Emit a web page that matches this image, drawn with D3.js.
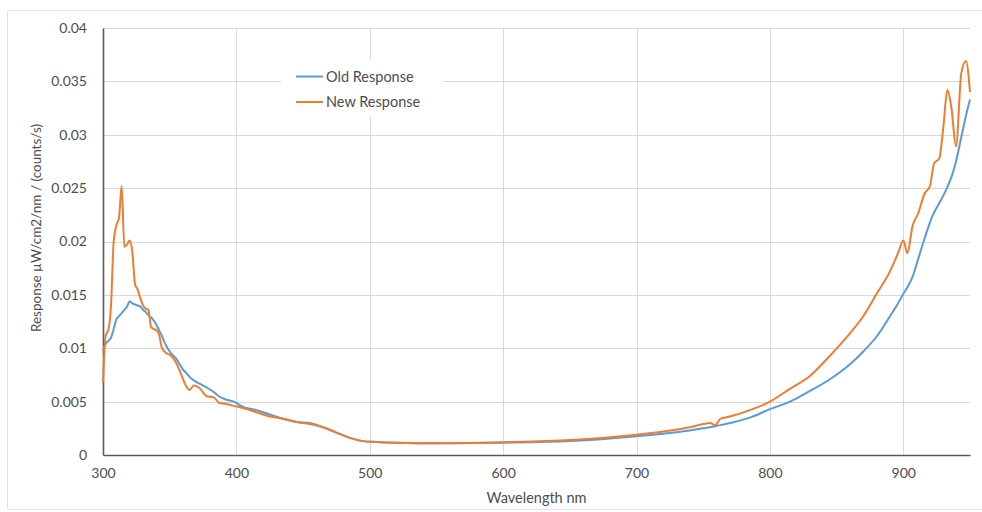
<!DOCTYPE html>
<html>
<head>
<meta charset="utf-8">
<script src="https://cdn.jsdelivr.net/npm/d3@7"></script>
<style>
  body { margin: 0; background: #fff; }
  svg text { font-family: Lato, "Open Sans", sans-serif; fill: #4d4d4d; }
  .grid line { stroke: #d9d9d9; stroke-width: 1; }
  .axis path, .axis line { stroke: #595959; }
</style>
</head>
<body>
<div id="chart"></div>
<script>

/*
 * Chart data.
 */

// Wavelength samples (nm).
var wavelengths = [
  300, 302, 304, 306, 308, 310, 312, 314, 316, 318, 320, 322, 324, 326, 328,
  330, 332, 334, 336, 338, 340, 342, 344, 346, 348, 350, 355, 360, 363, 365,
  368, 372, 378, 383, 387, 392, 398, 405, 415, 425, 435, 445, 455, 465, 475,
  485, 495, 505, 520, 550, 600, 650, 700, 720, 740, 750, 755, 759, 763, 770,
  785, 800, 815, 830, 845, 860, 870, 880, 890, 896, 900, 903, 907, 911, 916,
  920, 923, 927, 930, 933, 936, 939.5, 943.5, 947, 950
];

// Old response.
var oldResponse = [
  0.0098, 0.0104, 0.0107, 0.0110, 0.0118, 0.0127, 0.0130, 0.0133, 0.0136, 0.0139,
  0.0144, 0.0142, 0.0141, 0.0140, 0.0139, 0.0136, 0.0134, 0.0131, 0.0129, 0.0126,
  0.0122, 0.0117, 0.0112, 0.0106, 0.0101, 0.0097, 0.0090, 0.0080, 0.0076, 0.0073,
  0.0070, 0.0067, 0.0063, 0.0059, 0.0055, 0.0052, 0.0050, 0.0045, 0.0042, 0.0038,
  0.0034, 0.0031, 0.0030, 0.0026, 0.0021, 0.0016, 0.0013, 0.00122, 0.00115, 0.0011,
  0.00115, 0.0013, 0.00175, 0.0020, 0.0023, 0.0025, 0.0026, 0.0027, 0.0028, 0.0030,
  0.0035, 0.0043, 0.0050, 0.0060, 0.0071, 0.0085, 0.0097, 0.0111, 0.0130, 0.0142,
  0.0151, 0.0157, 0.0167, 0.0183, 0.0203, 0.0218, 0.0227, 0.0236, 0.0243, 0.0251,
  0.0260, 0.0275, 0.0298, 0.0318, 0.0333
];

// New response.
var newResponse = [
  0.0068, 0.0112, 0.0117, 0.0140, 0.0200, 0.0215, 0.0222, 0.0252, 0.0195, 0.0197,
  0.0201, 0.0190, 0.0160, 0.0155, 0.0147, 0.0140, 0.0137, 0.0136, 0.0120, 0.0118,
  0.0117, 0.0113, 0.0101, 0.0097, 0.0095, 0.0094, 0.0086, 0.0071, 0.0063, 0.0061,
  0.0065, 0.0063, 0.0055, 0.0054, 0.0049, 0.0048, 0.0046, 0.0044, 0.0040, 0.0036,
  0.0034, 0.0031, 0.0029, 0.0026, 0.0021, 0.0016, 0.0013, 0.00122, 0.00115, 0.0011,
  0.0012, 0.0014, 0.0019, 0.0022, 0.0026, 0.0029, 0.0030, 0.0028, 0.0034, 0.0036,
  0.0042, 0.0050, 0.0062, 0.0074, 0.0093, 0.0114, 0.0130, 0.0151, 0.0172, 0.0189,
  0.0201, 0.0189, 0.0215, 0.0226, 0.0245, 0.0252, 0.0273, 0.0278, 0.0307, 0.0342,
  0.0326, 0.0289, 0.0358, 0.0369, 0.0340
];

// Axis ticks.
var xTicks = [300, 400, 500, 600, 700, 800, 900];
var yTicks = [0, 0.005, 0.01, 0.015, 0.02, 0.025, 0.03, 0.035, 0.04];

// Series names and colours.
var seriesNames = ['Old Response', 'New Response'];
var seriesColors = ['#5b9bd5', '#ed7d31'];

/*
 * Layout.
 */

var width = 982, height = 512;
var margin = { top: 28, right: 12, bottom: 57, left: 103 };

var svg = d3.select('#chart').append('svg')
  .attr('width', width)
  .attr('height', height);

// Outer chart frame.
svg.append('rect')
  .attr('x', 7.5).attr('y', 10.5)
  .attr('width', 990).attr('height', 499)
  .attr('fill', 'none')
  .attr('stroke', '#e3e3e3');

// Scales.
var x = d3.scaleLinear()
  .domain([300, 950])
  .range([margin.left, width - margin.right]);

var y = d3.scaleLinear()
  .domain([0, 0.04])
  .range([height - margin.bottom, margin.top]);

/*
 * Gridlines.
 */

svg.append('g')
  .attr('class', 'grid')
  .selectAll('line.h')
  .data(yTicks.slice(1))
  .enter().append('line')
    .attr('x1', x(300)).attr('x2', x(950))
    .attr('y1', function(d) { return Math.round(y(d)) + 0.5; })
    .attr('y2', function(d) { return Math.round(y(d)) + 0.5; });

svg.append('g')
  .attr('class', 'grid')
  .selectAll('line.v')
  .data(xTicks.slice(1))
  .enter().append('line')
    .attr('y1', y(0)).attr('y2', y(0.04))
    .attr('x1', function(d) { return Math.round(x(d)) + 0.5; })
    .attr('x2', function(d) { return Math.round(x(d)) + 0.5; });

/*
 * Axes.
 */

var xAxis = svg.append('g')
  .attr('class', 'axis')
  .attr('transform', 'translate(0,' + y(0) + ')')
  .call(d3.axisBottom(x).tickValues(xTicks).tickSize(0).tickPadding(13));

var yAxis = svg.append('g')
  .attr('class', 'axis')
  .attr('transform', 'translate(' + x(300) + ',0)')
  .call(d3.axisLeft(y).tickValues(yTicks).tickSize(0).tickPadding(16)
    .tickFormat(function(d) { return d === 0 ? '0' : String(+d.toFixed(3)); }));

xAxis.select('.domain').attr('stroke-width', 1.6);
yAxis.select('.domain').attr('stroke-width', 1.6);
svg.selectAll('.axis text').attr('font-size', 14).attr('fill', '#4d4d4d');

// Axis titles.
svg.append('text')
  .attr('x', (x(300) + x(950)) / 2)
  .attr('y', 503)
  .attr('text-anchor', 'middle')
  .attr('font-size', 14.5)
  .text('Wavelength nm');

svg.append('text')
  .attr('transform', 'translate(41,' + 228 + ') rotate(-90)')
  .attr('text-anchor', 'middle')
  .attr('font-size', 13.5)
  .text('Response \u00b5W/cm2/nm / (counts/s)');

/*
 * Lines.
 */

var line = d3.line()
  .x(function(d) { return x(d[0]); })
  .y(function(d) { return y(d[1]); })
  .curve(d3.curveMonotoneX);

[oldResponse, newResponse].forEach(function(values, i) {
  svg.append('path')
    .datum(d3.zip(wavelengths, values))
    .attr('fill', 'none')
    .attr('stroke', seriesColors[i])
    .attr('stroke-width', 2)
    .attr('d', line);
});

/*
 * Legend.
 */

var legend = svg.append('g');

legend.append('rect')
  .attr('x', 281).attr('y', 60)
  .attr('width', 162).attr('height', 57)
  .attr('fill', '#fff');

seriesNames.forEach(function(name, i) {
  var ly = 76.5 + i * 25.5;
  legend.append('line')
    .attr('x1', 296).attr('x2', 323)
    .attr('y1', ly).attr('y2', ly)
    .attr('stroke', seriesColors[i])
    .attr('stroke-width', 2);
  legend.append('text')
    .attr('x', 326).attr('y', ly)
    .attr('dy', '0.35em')
    .attr('font-size', 14.5)
    .text(name);
});

</script>
</body>
</html>
